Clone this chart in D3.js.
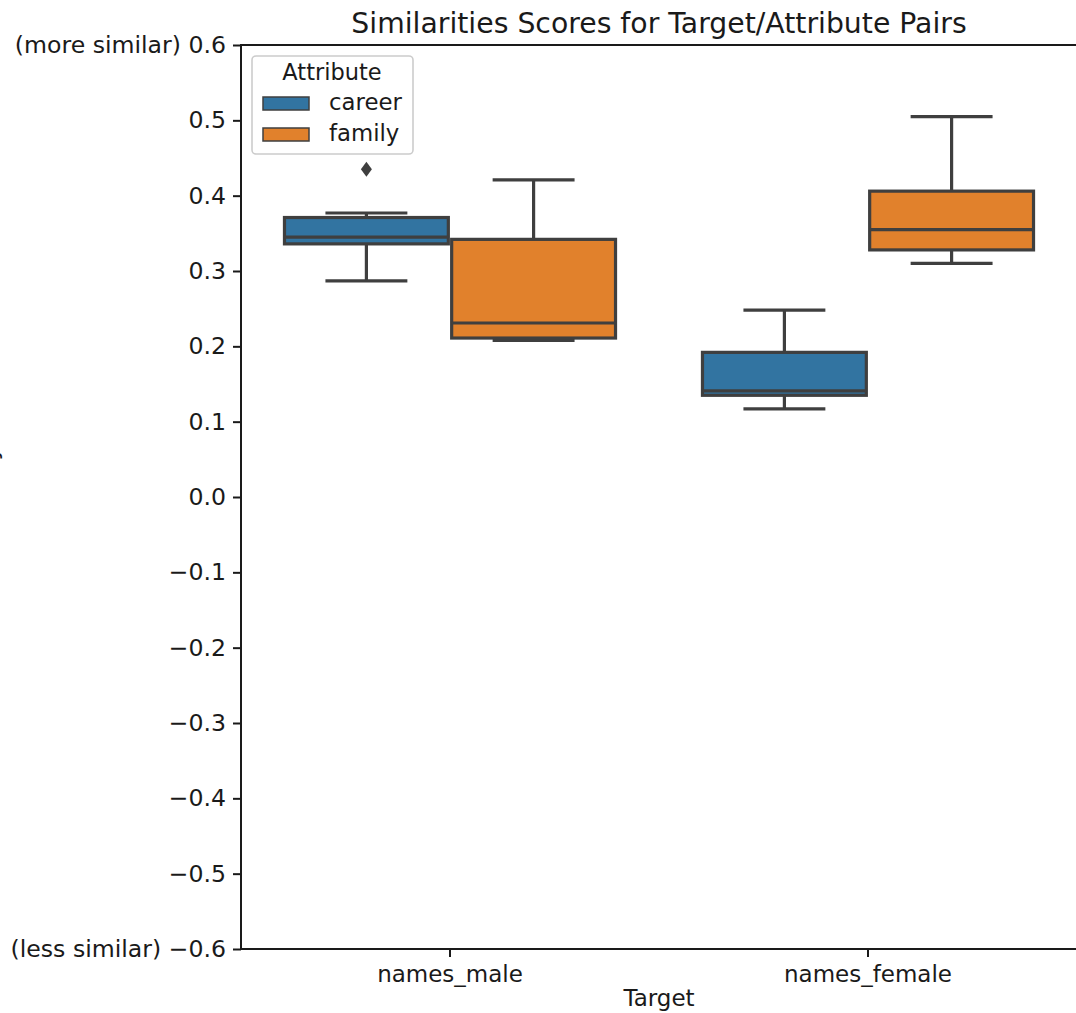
<!DOCTYPE html>
<html>
<head>
<meta charset="utf-8">
<script src="https://cdn.jsdelivr.net/npm/d3@7"></script>
<style>
  html, body { margin: 0; padding: 0; background: #fff; }
  svg { display: block; }
  text { font-family: "DejaVu Sans", sans-serif; fill: #1a1a1a; }
</style>
</head>
<body>
<svg id="chart" width="1076" height="1013"></svg>
<script>
// Target groups on the x axis and attribute groups (hue)
const categories = ["names_male", "names_female"];
const attributes = ["career", "family"];

// Box statistics per attribute, one value per target group
const careerLow    = [0.287, 0.117];
const careerQ1     = [0.336, 0.135];
const careerMedian = [0.345, 0.141];
const careerQ3     = [0.371, 0.192];
const careerHigh   = [0.377, 0.248];

const familyLow    = [0.208, 0.310];
const familyQ1     = [0.211, 0.328];
const familyMedian = [0.231, 0.355];
const familyQ3     = [0.342, 0.406];
const familyHigh   = [0.421, 0.505];

// Points beyond the whiskers
const careerOutliers = [[0.435], []];
const familyOutliers = [[], []];

// Y tick values and axis extent
const yTicks = [-0.6, -0.5, -0.4, -0.3, -0.2, -0.1, 0.0, 0.1, 0.2, 0.3, 0.4, 0.5, 0.6];
const yDomain = [-0.6, 0.6];

const colors = { career: "#3274a1", family: "#e1812c" };
const edge = "#3f3f3f";

const series = [
  { key: "career", low: careerLow, q1: careerQ1, med: careerMedian, q3: careerQ3, high: careerHigh, out: careerOutliers },
  { key: "family", low: familyLow, q1: familyQ1, med: familyMedian, q3: familyQ3, high: familyHigh, out: familyOutliers }
];

const boxes = [];
series.forEach(s => {
  categories.forEach((c, i) => {
    boxes.push({ cat: c, hue: s.key, low: s.low[i], q1: s.q1[i], med: s.med[i], q3: s.q3[i], high: s.high[i], out: s.out[i] });
  });
});

const svg = d3.select("#chart");
const m = { left: 241, right: 1077, top: 45, bottom: 949 };

const x = d3.scaleBand().domain(categories).range([m.left, m.right]).paddingInner(0).paddingOuter(0);
const y = d3.scaleLinear().domain(yDomain).range([m.bottom, m.top]);

// hue offsets inside each category: 0.8 of the band, split between attributes
const hueScale = d3.scaleBand().domain(attributes).range([-0.4 * x.bandwidth(), 0.4 * x.bandwidth()]);
const boxW = hueScale.bandwidth() * 0.98;
const centerOf = d => x(d.cat) + x.bandwidth() / 2 + hueScale(d.hue) + hueScale.bandwidth() / 2;

const plot = svg.append("g");

const g = plot.selectAll("g.box").data(boxes).join("g").attr("class", "box");

// whiskers
g.append("line")
  .attr("x1", centerOf).attr("x2", centerOf)
  .attr("y1", d => y(d.q3)).attr("y2", d => y(d.high))
  .attr("stroke", edge).attr("stroke-width", 3.2);
g.append("line")
  .attr("x1", centerOf).attr("x2", centerOf)
  .attr("y1", d => y(d.q1)).attr("y2", d => y(d.low))
  .attr("stroke", edge).attr("stroke-width", 3.2);
// caps
g.append("line")
  .attr("x1", d => centerOf(d) - boxW / 4).attr("x2", d => centerOf(d) + boxW / 4)
  .attr("y1", d => y(d.high)).attr("y2", d => y(d.high))
  .attr("stroke", edge).attr("stroke-width", 3.2);
g.append("line")
  .attr("x1", d => centerOf(d) - boxW / 4).attr("x2", d => centerOf(d) + boxW / 4)
  .attr("y1", d => y(d.low)).attr("y2", d => y(d.low))
  .attr("stroke", edge).attr("stroke-width", 3.2);
// box body
g.append("rect")
  .attr("x", d => centerOf(d) - boxW / 2)
  .attr("width", boxW)
  .attr("y", d => y(d.q3))
  .attr("height", d => y(d.q1) - y(d.q3))
  .attr("fill", d => colors[d.hue])
  .attr("stroke", edge).attr("stroke-width", 3.2);
// median
g.append("line")
  .attr("x1", d => centerOf(d) - boxW / 2).attr("x2", d => centerOf(d) + boxW / 2)
  .attr("y1", d => y(d.med)).attr("y2", d => y(d.med))
  .attr("stroke", edge).attr("stroke-width", 3.2);
// outliers as diamonds
g.each(function(d) {
  d3.select(this).selectAll("path.out").data(d.out).join("path")
    .attr("class", "out")
    .attr("d", v => {
      const cx = centerOf(d), cy = y(v);
      return `M${cx},${cy - 7.5}L${cx + 5.5},${cy}L${cx},${cy + 7.5}L${cx - 5.5},${cy}Z`;
    })
    .attr("fill", edge);
});

// axes
const fmt = v => {
  const s = Math.abs(v) < 1e-9 ? "0.0" : d3.format(".1f")(v).replace("-", "\u2212");
  if (v === yDomain[1]) return "(more similar) " + s;
  if (v === yDomain[0]) return "(less similar) " + s;
  return s;
};

const yAxis = svg.append("g")
  .attr("transform", `translate(${m.left},0)`)
  .call(d3.axisLeft(y).tickValues(yTicks).tickFormat(fmt).tickSize(8).tickPadding(7));
yAxis.select(".domain").remove();
yAxis.selectAll(".tick line").attr("stroke", "#1a1a1a").attr("stroke-width", 2);
yAxis.selectAll(".tick text").attr("font-size", 23.6).attr("font-family", "DejaVu Sans").attr("fill", "#1a1a1a");

const xAxis = svg.append("g")
  .attr("transform", `translate(0,${m.bottom})`)
  .call(d3.axisBottom(x).tickSize(8).tickPadding(9));
xAxis.select(".domain").remove();
xAxis.selectAll(".tick line").attr("stroke", "#1a1a1a").attr("stroke-width", 2);
xAxis.selectAll(".tick text").attr("font-size", 23).attr("font-family", "DejaVu Sans").attr("fill", "#1a1a1a");

// frame
svg.append("rect")
  .attr("x", m.left).attr("y", m.top)
  .attr("width", m.right - m.left).attr("height", m.bottom - m.top)
  .attr("fill", "none").attr("stroke", "#1a1a1a").attr("stroke-width", 2);

// title and axis labels
svg.append("text")
  .attr("x", (m.left + m.right) / 2).attr("y", 33)
  .attr("text-anchor", "middle").attr("font-size", 28.3)
  .text("Similarities Scores for Target/Attribute Pairs");

svg.append("text")
  .attr("x", (m.left + m.right) / 2).attr("y", 1006)
  .attr("text-anchor", "middle").attr("font-size", 23)
  .text("Target");

svg.append("text")
  .attr("transform", `translate(-3,${(m.top + m.bottom) / 2 + 4}) rotate(-90)`)
  .attr("text-anchor", "middle").attr("font-size", 23)
  .text("Similarity");

// legend
const legend = svg.append("g");
legend.append("rect")
  .attr("x", 252).attr("y", 56).attr("width", 161).attr("height", 98)
  .attr("rx", 4).attr("fill", "#fff").attr("fill-opacity", 0.8)
  .attr("stroke", "#cccccc").attr("stroke-width", 1.6);
legend.append("text")
  .attr("x", 332).attr("y", 80).attr("text-anchor", "middle").attr("font-size", 22.5)
  .text("Attribute");
const items = legend.selectAll("g.item").data(attributes).join("g").attr("class", "item")
  .attr("transform", (d, i) => `translate(0,${97 + i * 31})`);
items.append("rect")
  .attr("x", 263).attr("y", 0).attr("width", 46).attr("height", 13)
  .attr("fill", d => colors[d]).attr("stroke", edge).attr("stroke-width", 1.5);
items.append("text")
  .attr("x", 329).attr("y", 13).attr("font-size", 22.8)
  .text(d => d);
</script>
</body>
</html>
